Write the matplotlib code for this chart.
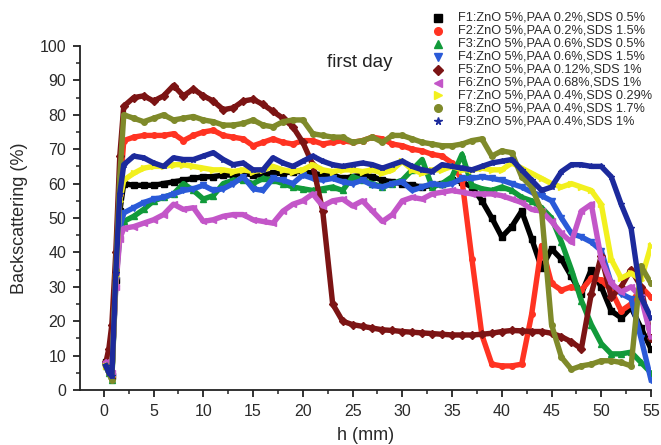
import matplotlib
matplotlib.use("Agg")
import matplotlib.pyplot as plt
from matplotlib.lines import Line2D

plt.rcParams['font.family'] = ['Liberation Sans', 'DejaVu Sans']

# h (mm) positions where the curves were read
h = [0.2, 0.5, 0.8, 1.2, 1.6] + list(range(2, 56))

f1 = [8, 6, 4, 32, 52,
      60, 59.5, 59.5, 59.5, 60, 60.5, 61, 61.5, 62, 62, 62.5, 62.5, 63, 62.5, 62.5, 63, 63, 63.5, 63.5, 63,
      62.5, 62.5, 61.5, 62, 62.5, 62, 61, 60.5, 60, 59.5, 59, 59.5, 60, 61, 60.5, 59, 55, 50, 44.5, 47.5,
      52, 44, 35.5, 41, 38, 33, 28, 35, 30, 23, 21, 24, 18, 12]
f2 = [8, 6, 4, 34, 57,
      72.5, 73.5, 74, 74, 74, 74.5, 72.5, 74, 75, 75.5, 74, 73.5, 73, 71, 72, 73, 72, 71.5, 72.5, 72.5,
      71.5, 72, 72.5, 72, 72.5, 73.5, 73, 71.5, 71, 70, 69.5, 68.5, 68, 66, 61, 38, 16, 7.5, 7, 7,
      7.5, 22, 42, 31, 29, 30, 29, 32.5, 32, 29, 23, 25, 30, 27]
f3 = [7, 5, 3, 31, 45,
      49, 50.5, 52.5, 55, 56, 57, 60, 58, 55.5, 56.5, 60, 61, 61, 60, 61.5, 61, 60, 59, 58.5, 58,
      58.5, 59, 58, 62, 61, 60, 59, 60, 61, 64, 67, 59, 60, 62, 68.5, 59.5, 58.5, 58, 59, 58,
      56, 55, 53, 50, 43, 35, 26, 19, 13.5, 10.5, 10.5, 11, 8, 5]
f4 = [7, 6, 4, 32, 47,
      51.5, 53, 54.5, 55.5, 56, 57, 58, 58.5, 59.5, 58, 58.5, 60, 62, 58.5, 58, 61.5, 61, 60, 62.5, 61.5,
      61, 61.5, 60.5, 60, 61, 59.5, 59, 60, 60.5, 58, 59, 60, 59.5, 60, 61.5, 61.5, 62, 61.5, 61, 60,
      59, 57.5, 56.5, 55, 50, 45.5, 44.5, 43, 40.5, 31, 28, 26.5, 15, 3]
f5 = [8, 12, 19, 40, 68,
      82.5, 85, 85.5, 84, 85.5, 88.5, 85.5, 87.5, 85.5, 84, 81.5, 82, 84, 84.5, 83, 81, 79, 76.5, 72, 65.5,
      52, 25, 20, 19, 18.5, 18, 17.5, 17.3, 17, 16.8, 16.6, 16.4, 16.2, 16, 16, 16, 16.2, 16.5, 17, 17.3,
      17.2, 17, 17, 16.5, 15.5, 14, 12, 28, 39, 27, 30, 35, 30, 15]
f6 = [8, 7, 5, 30, 44,
      47, 47.5, 48.5, 49.5, 51, 54, 52.5, 53, 49, 49.5, 50.5, 51, 51, 49.5, 49, 48.5, 52, 54, 55, 57,
      53.5, 55, 55.5, 53.5, 55, 52, 49, 51, 55, 56, 55.5, 57, 57.5, 58, 57.5, 57, 57, 57, 56.5, 55.5,
      54.5, 52.5, 52, 49, 45.5, 43, 52, 54, 38, 31, 28.5, 30, 27, 15.5]
f7 = [7, 6, 4, 33, 55,
      61, 63, 64.5, 65, 65, 65.5, 65.5, 65, 64.5, 64, 64, 63.5, 64, 63.5, 64, 65, 64, 63.5, 64, 65.5,
      64, 63.5, 64, 64, 63.5, 64, 63, 64, 66.5, 64, 63, 64, 64, 65, 64, 64, 64.5, 64, 64, 66,
      64.5, 63, 61.5, 60, 59, 60, 59, 58, 54, 38, 32.5, 34, 32, 42]
f8 = [7, 5, 3, 35, 62,
      80, 79, 78, 79, 80, 78.5, 79, 79.5, 78.5, 78, 77, 77, 77.5, 78.5, 77, 76.5, 78, 78.5, 78.5, 74.5,
      74, 73.5, 73.5, 72, 72.5, 73.5, 72, 74, 74, 73, 72, 71.5, 71, 71, 71.5, 72.5, 73, 68, 69.5, 69,
      62, 59, 52, 19, 9.5, 6, 7, 7.5, 8.5, 8.5, 8, 7, 36, 31]
f9 = [7, 5, 4, 34, 57,
      65.5, 68, 67.5, 66, 65, 67.5, 67, 67, 68, 69, 67, 65.5, 66, 64, 64, 67.5, 66, 65, 66.5, 68,
      66.5, 65.5, 65, 65.5, 66, 65.5, 64.5, 65.5, 66.5, 65, 64, 63.5, 65.5, 65, 64.5, 64, 65, 66, 66.5, 67,
      64, 61, 58, 59, 63.5, 65.5, 65.5, 65, 65, 62, 54, 47, 27, 21]

labels = ["F1:ZnO 5%,PAA 0.2%,SDS 0.5%",
          "F2:ZnO 5%,PAA 0.2%,SDS 1.5%",
          "F3:ZnO 5%,PAA 0.6%,SDS 0.5%",
          "F4:ZnO 5%,PAA 0.6%,SDS 1.5%",
          "F5:ZnO 5%,PAA 0.12%,SDS 1%",
          "F6:ZnO 5%,PAA 0.68%,SDS 1%",
          "F7:ZnO 5%,PAA 0.4%,SDS 0.29%",
          "F8:ZnO 5%,PAA 0.4%,SDS 1.7%",
          "F9:ZnO 5%,PAA 0.4%,SDS 1%"]
series = [f1, f2, f3, f4, f5, f6, f7, f8, f9]
colors = ["#000000", "#ff3322", "#119a3a", "#2a5ad8", "#7c1414",
          "#c356c8", "#f2f01e", "#7f8a2a", "#1c2a9c"]
markers = ["s", "o", "^", "v", "D", "<", ">", "o", "*"]

W, H = 661, 445
fig = plt.figure(figsize=(W / 100, H / 100), dpi=100)
ax = fig.add_axes([80 / W, 55 / H, 571 / W, 344 / H])

for y, c, m in zip(series, colors, markers):
    ax.plot(h, y, color=c, lw=3.9, marker=m, ms=4, mec=c, mfc=c)

ax.set_xlim(-2.4, 55)
ax.set_ylim(0, 100)
ax.set_xticks(range(0, 56, 5))
ax.set_xticks([x + 2.5 for x in range(0, 55, 5)], minor=True)
ax.set_yticks(range(0, 101, 10))
ax.set_yticks(range(5, 100, 10), minor=True)
for s in ["top", "right"]:
    ax.spines[s].set_visible(False)
for s in ["left", "bottom"]:
    ax.spines[s].set_linewidth(1.3)
    ax.spines[s].set_color("#222")
ax.tick_params(which="major", length=5, width=1.3, colors="#222", labelsize=11.5,
               labelcolor="#2a2a2a", pad=5)
ax.tick_params(which="minor", length=3, width=1.1, colors="#222")

ax.set_xlabel("h (mm)", fontsize=13, color="#2a2a2a", labelpad=6)
ax.set_ylabel("Backscattering (%)", fontsize=13, color="#2a2a2a", labelpad=8)
ax.text(25.7, 95.2, "first day", fontsize=13.5, color="#222", ha="center", va="center")

# legend drawn row by row (marker column at x=438 px, rows 12.9 px apart)
for i, (c, m, lab) in enumerate(zip(colors, markers, labels)):
    yy = 1 - (18 + 12.9 * i) / H
    fig.add_artist(Line2D([438 / W], [yy], ls="none", marker=m, color=c, ms=5.5,
                          transform=fig.transFigure))
    fig.text(458 / W, yy, lab, fontsize=9.2, color="#2a2a2a", va="center", ha="left")

fig.savefig("out.png", dpi=100)
